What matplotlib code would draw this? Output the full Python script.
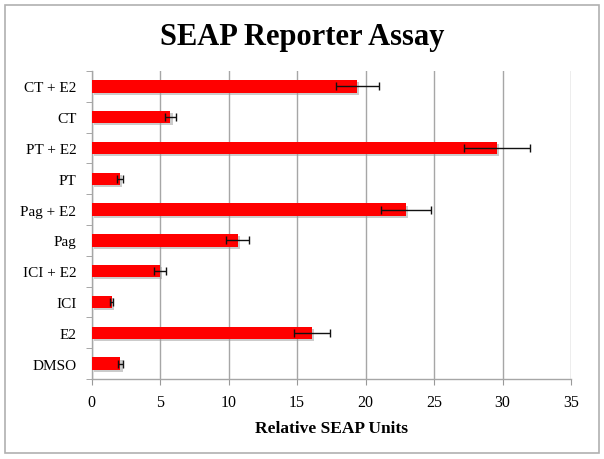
import matplotlib
matplotlib.use("Agg")
import matplotlib.pyplot as plt
import matplotlib.patheffects as pe
import numpy as np
from matplotlib.patches import Rectangle

categories = ["DMSO", "E2", "ICI", "ICI + E2", "Pag", "Pag + E2", "PT", "PT + E2", "CT", "CT + E2"]
values = [2.1, 16.1, 1.45, 5.0, 10.65, 22.95, 2.07, 29.6, 5.75, 19.4]
errors = [0.18, 1.3, 0.12, 0.42, 0.83, 1.85, 0.2, 2.4, 0.42, 1.55]
xticks = [0, 5, 10, 15, 20, 25, 30, 35]

plt.rcParams["font.family"] = ["Liberation Serif", "DejaVu Serif"]

fig = plt.figure(figsize=(6.04, 4.60), dpi=100)
ax = fig.add_axes([0.1518, 0.1739, 0.7936, 0.6696])

y = np.arange(len(categories))
bars = ax.barh(y, values, height=0.4, color="#ff0000", zorder=3)
for b in bars:
    b.set_path_effects([pe.SimplePatchShadow(offset=(1.5, -1.5), shadow_rgbFace="#999999", alpha=0.5), pe.Normal()])
ax.errorbar(values, y, xerr=errors, fmt="none", ecolor="#111111", elinewidth=1.0,
            capsize=3, capthick=1.0, zorder=4)

ax.set_xlim(0, 35)
ax.set_ylim(-0.5, len(categories) - 0.5)
ax.set_xticks(xticks)
ax.set_xticklabels([str(t) for t in xticks], fontsize=11.5)
ax.set_yticks(y)
ax.set_yticklabels(categories, fontsize=11)
ax.set_yticks(np.arange(-0.5, len(categories)), minor=True)
ax.tick_params(axis="y", which="major", length=0, pad=11)
ax.tick_params(axis="y", which="minor", length=4, color="#999999")
ax.tick_params(axis="x", length=4, color="#999999", pad=7)
ax.grid(axis="x", color="#a6a6a6", linewidth=1.0, zorder=0)

for side in ["top", "right"]:
    ax.spines[side].set_visible(False)
for side in ["left", "bottom"]:
    ax.spines[side].set_color("#a6a6a6")
    ax.spines[side].set_linewidth(1.0)

ax.set_xlabel("Relative SEAP Units", fontsize=12.5, fontweight="bold", labelpad=7)
fig.text(0.5, 0.918, "SEAP Reporter Assay", ha="center", va="center", fontsize=22, fontweight="bold")

fig.patches.append(Rectangle((0.009, 0.013), 0.982, 0.975, transform=fig.transFigure,
                             fill=False, edgecolor="#b0b0b0", linewidth=1.2))

fig.savefig("out.png", dpi=100)
